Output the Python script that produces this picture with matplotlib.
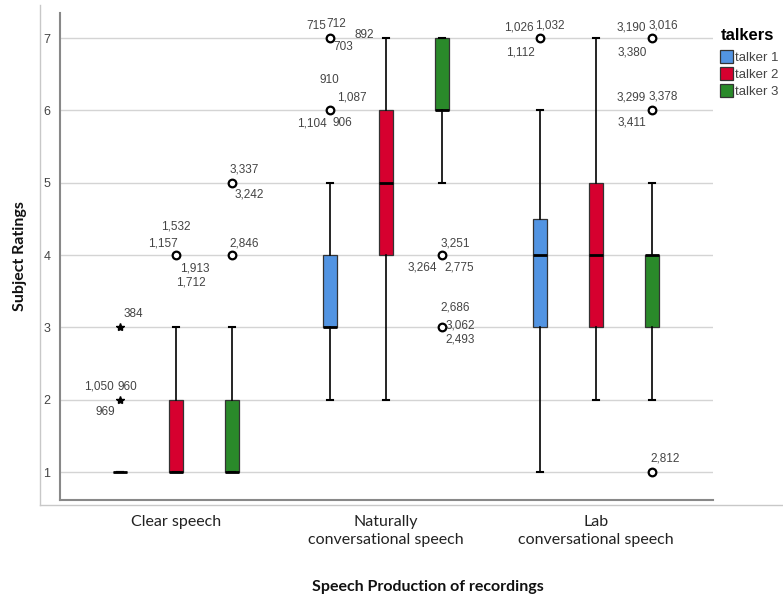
import matplotlib.pyplot as plt
from matplotlib.lines import Line2D
from matplotlib.patches import Patch

# Speech categories and talkers
groups = ['Clear speech', 'Naturally\nconversational speech', 'Lab\nconversational speech']
talkers = ['talker 1', 'talker 2', 'talker 3']
colors = ['#5294E2', '#D6002F', '#2A8A2A']

# Box statistics per group (rows) and talker (columns)
q1 = [[1, 1, 1], [3, 4, 6], [3, 3, 3]]
median = [[1, 1, 1], [3, 5, 6], [4, 4, 4]]
q3 = [[1, 2, 2], [4, 6, 7], [4.5, 5, 4]]
whisker_low = [[1, 1, 1], [2, 2, 5], [1, 2, 2]]
whisker_high = [[1, 3, 3], [5, 7, 7], [6, 7, 5]]

# Outliers: group, talker, rating, kind ('o' outlier, '*' extreme)
outlier_group = [0, 0, 1, 1, 1, 1, 2, 2, 2, 2, 0, 0, 0]
outlier_talker = [0, 0, 0, 0, 2, 2, 0, 2, 2, 2, 1, 2, 2]
outlier_value = [3, 2, 7, 6, 4, 3, 7, 7, 6, 1, 4, 5, 4]
outlier_kind = ['*', '*', 'o', 'o', 'o', 'o', 'o', 'o', 'o', 'o', 'o', 'o', 'o']
outlier_cases = [
    ['384'],
    ['1,050', '960', '969'],
    ['715', '712', '703', '892'],
    ['910', '1,087', '1,104', '906'],
    ['3,251', '3,264', '2,775'],
    ['2,686', '3,062', '2,493'],
    ['1,026', '1,032', '1,112'],
    ['3,190', '3,016', '3,380'],
    ['3,299', '3,378', '3,411'],
    ['2,812'],
    ['1,532', '1,157', '1,913', '1,712'],
    ['3,337', '3,242'],
    ['2,846'],
]

# label placement around each outlier (pixels right, pixels down)
label_offsets = [
    [(13, -13)],
    [(-21, -13), (8, -13), (-15, 12)],
    [(-14, -12), (6, -14), (13, 9), (34, -3)],
    [(-1, -30), (22, -13), (-18, 13), (12, 13)],
    [(13, -12), (-20, 12), (17, 12)],
    [(13, -20), (18, -2), (18, 12)],
    [(-21, -11), (10, -13), (-20, 14)],
    [(-21, -11), (11, -13), (-20, 14)],
    [(-21, -13), (11, -14), (-20, 12)],
    [(13, -14)],
    [(0, -29), (-13, -12), (19, 13), (15, 27)],
    [(12, -13), (17, 12)],
    [(12, -12)],
]

shift = [-0.267, 0.0, 0.267]

fig = plt.figure(figsize=(7.83, 6.02), dpi=100)
ax = fig.add_axes([60 / 783, 102 / 602, 653 / 783, 487 / 602])

# outer frame lines
fig.add_artist(Line2D([40 / 783, 40 / 783], [97 / 602, 597 / 602], color='#c8c8c8', lw=1))
fig.add_artist(Line2D([40 / 783, 1.0], [97 / 602, 97 / 602], color='#c8c8c8', lw=1))

for y in range(1, 8):
    ax.axhline(y, color='#d4d4d4', lw=1, zorder=0)

for t in range(3):
    stats = []
    pos = []
    for g in range(3):
        stats.append({'med': median[g][t], 'q1': q1[g][t], 'q3': q3[g][t],
                      'whislo': whisker_low[g][t], 'whishi': whisker_high[g][t],
                      'fliers': []})
        pos.append(g + 1 + shift[t])
    ax.bxp(stats, positions=pos, widths=0.067, capwidths=0.03, patch_artist=True,
           showfliers=False,
           boxprops=dict(facecolor=colors[t], edgecolor='#333333', lw=0.9),
           medianprops=dict(color='black', lw=2),
           whiskerprops=dict(color='black', lw=1.2),
           capprops=dict(color='black', lw=1.5), zorder=3)

for i in range(len(outlier_value)):
    x = outlier_group[i] + 1 + shift[outlier_talker[i]]
    y = outlier_value[i]
    if outlier_kind[i] == '*':
        ax.plot(x, y, marker='*', color='black', ms=6, zorder=4)
    else:
        ax.plot(x, y, marker='o', mfc='white', mec='black', mew=1.6, ms=5.5, zorder=4)
    for text, (dx, dy) in zip(outlier_cases[i], label_offsets[i]):
        ax.annotate(text, (x, y), xytext=(dx, -dy), textcoords='offset pixels',
                    ha='center', va='center', fontsize=8.5, color='#444444',
                    family='Liberation Sans', zorder=5)

ax.set_xlim(0.448, 3.557)
ax.set_ylim(0.613, 7.346)
ax.set_yticks(range(1, 8))
ax.set_xticks([1, 2, 3])
ax.set_xticklabels(groups, family='Lato', fontsize=11.5, color='#222222', linespacing=1.35)
ax.tick_params(axis='y', length=0, pad=7, labelsize=9, labelcolor='#444444')
ax.tick_params(axis='x', length=0, pad=11)
for lab in ax.get_yticklabels():
    lab.set_family('Liberation Sans')

for side in ['top', 'right']:
    ax.spines[side].set_visible(False)
for side in ['left', 'bottom']:
    ax.spines[side].set_color('#888888')
    ax.spines[side].set_linewidth(1.5)

fig.text(20 / 783, 1 - 256 / 602, 'Subject Ratings', rotation=90, ha='center', va='center',
         family='Lato', fontweight='bold', fontsize=11.5, color='#111111')
fig.text(428 / 783, 1 - 587 / 602, 'Speech Production of recordings', ha='center', va='center',
         family='Lato', fontweight='bold', fontsize=11.5, color='#111111')

handles = [Patch(facecolor=c, edgecolor='#333333', lw=0.9) for c in colors]
leg = fig.legend(handles, talkers, title='talkers', loc='upper left',
                 bbox_to_anchor=(715 / 783, 1 - 23 / 602), frameon=False,
                 handlelength=0.95, handleheight=1.15, handletextpad=0.15,
                 labelspacing=0.22, borderaxespad=0, labelcolor='#444444',
                 prop={'family': 'Liberation Sans', 'size': 9.5})
leg.get_title().set_fontweight('bold')
leg.get_title().set_fontsize(12)
leg.get_title().set_family('Liberation Sans')
leg._legend_box.align = 'left'
leg._legend_box.sep = 5

fig.savefig('out.png', dpi=100)
